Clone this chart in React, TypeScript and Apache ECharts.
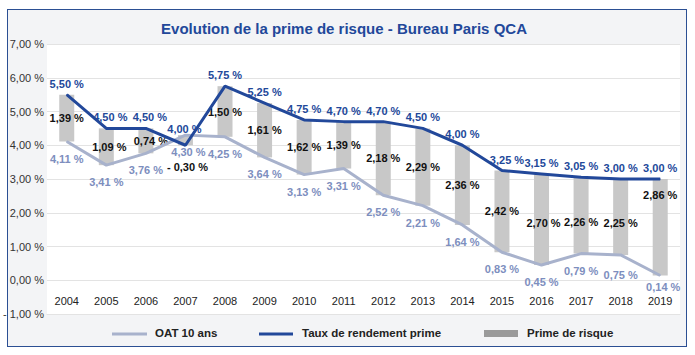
import React, { useEffect, useRef } from "react";
import * as echarts from "echarts";

const years = ["2004", "2005", "2006", "2007", "2008", "2009", "2010", "2011", "2012", "2013", "2014", "2015", "2016", "2017", "2018", "2019"];
const tauxPrime = [5.5, 4.5, 4.5, 4.0, 5.75, 5.25, 4.75, 4.7, 4.7, 4.5, 4.0, 3.25, 3.15, 3.05, 3.0, 3.0];
const oat = [4.11, 3.41, 3.76, 4.3, 4.25, 3.64, 3.13, 3.31, 2.52, 2.21, 1.64, 0.83, 0.45, 0.79, 0.75, 0.14];
const primeRisque = [1.39, 1.09, 0.74, -0.3, 1.5, 1.61, 1.62, 1.39, 2.18, 2.29, 2.36, 2.42, 2.7, 2.26, 2.25, 2.86];
const yTicks = { min: -1, max: 7, interval: 1 };

const FONT = "'Liberation Sans', Arial, sans-serif";
const BLUE = "#22489a";
const OAT_LINE = "#a8b2cc";
const OAT_LABEL = "#7d8ebe";

const fmt = (v: number) =>
  v < 0 ? "- " + Math.abs(v).toFixed(2).replace(".", ",") + " %" : v.toFixed(2).replace(".", ",") + " %";

// label placement tweaks (style only)
const primeLabelStyle: Record<string, any> = {
  "2005": { offset: [3, 0] },
  "2006": { offset: [5, 0] },
  "2007": { position: "bottom", distance: 16, offset: [2, 0] },
  "2016": { offset: [2, 3] },
  "2017": { offset: [0, 7] },
  "2018": { offset: [0, 6] },
  "2019": { offset: [0, -32] },
};
const tauxLabelStyle: Record<string, any> = {
  "2005": { offset: [4, 0] },
  "2006": { offset: [4, 0] },
  "2007": { offset: [-1, -5] },
  "2015": { offset: [5, 0] },
};
const oatLabelStyle: Record<string, any> = {
  "2007": { offset: [3, 0] },
  "2018": { offset: [0, 3] },
  "2019": { offset: [3, -6] },
};

export default function App() {
  const ref = useRef<HTMLDivElement>(null);
  useEffect(() => {
    if (!ref.current) return;
    const chart = echarts.init(ref.current, null, { renderer: "svg" });
    const base = years.map((_, i) => Math.min(oat[i], tauxPrime[i]));
    chart.setOption({
      animation: false,
      textStyle: { fontFamily: FONT },
      grid: {
        left: 45,
        right: 15,
        top: 44,
        bottom: 41,
        show: true,
        backgroundColor: "#ffffff",
        borderWidth: 0,
      },
      xAxis: {
        type: "category",
        data: years,
        position: "bottom",
        axisLine: { show: true, onZero: false, lineStyle: { color: "#e3e3e3", width: 1 } },
        axisTick: { show: false },
        axisLabel: { margin: -19, color: "#222", fontSize: 11, fontFamily: FONT },
        splitLine: { show: false },
      },
      yAxis: {
        type: "value",
        min: yTicks.min,
        max: yTicks.max,
        interval: yTicks.interval,
        axisLine: { show: false },
        axisTick: { show: false },
        axisLabel: {
          margin: 3,
          color: "#333",
          fontSize: 11,
          fontFamily: FONT,
          formatter: (v: number) => fmt(v),
        },
        splitLine: { lineStyle: { color: "#e3e3e3", width: 1 } },
      },
      graphic: [
        {
          type: "text",
          x: 344,
          y: 28,
          style: {
            text: "Evolution de la prime de risque - Bureau Paris QCA",
            fill: BLUE,
            font: "bold 15px " + FONT,
            textAlign: "center",
            textVerticalAlign: "middle",
          },
        },
        { type: "line", shape: { x1: 112, y1: 334, x2: 147, y2: 334 }, style: { stroke: OAT_LINE, lineWidth: 3 } },
        {
          type: "text",
          x: 155,
          y: 333,
          style: { text: "OAT 10 ans", fill: "#222", font: "bold 11.5px " + FONT, textVerticalAlign: "middle" },
        },
        { type: "line", shape: { x1: 259, y1: 334, x2: 293, y2: 334 }, style: { stroke: BLUE, lineWidth: 3 } },
        {
          type: "text",
          x: 302,
          y: 333,
          style: { text: "Taux de rendement prime", fill: "#222", font: "bold 11.5px " + FONT, textVerticalAlign: "middle" },
        },
        { type: "rect", shape: { x: 484, y: 330, width: 34, height: 7 }, style: { fill: "#9a9a9a" } },
        {
          type: "text",
          x: 527,
          y: 333,
          style: { text: "Prime de risque", fill: "#222", font: "bold 11.5px " + FONT, textVerticalAlign: "middle" },
        },
      ],
      series: [
        {
          type: "bar",
          stack: "p",
          data: base,
          barWidth: 15,
          silent: true,
          itemStyle: { color: "transparent" },
          emphasis: { disabled: true },
        },
        {
          type: "bar",
          name: "Prime de risque",
          stack: "p",
          barWidth: 15,
          data: primeRisque.map((v, i) => ({
            value: Math.abs(v),
            label: primeLabelStyle[years[i]],
          })),
          itemStyle: { color: "#c8c8c8" },
          label: {
            show: true,
            position: "inside",
            color: "#111",
            fontWeight: "bold",
            fontSize: 11,
            fontFamily: FONT,
            formatter: (p: any) => fmt(primeRisque[p.dataIndex]),
          },
        },
        {
          type: "line",
          name: "OAT 10 ans",
          data: oat.map((v, i) => ({ value: v, label: oatLabelStyle[years[i]] })),
          symbol: "circle",
          symbolSize: 1,
          itemStyle: { color: OAT_LINE },
          lineStyle: { color: OAT_LINE, width: 3 },
          label: {
            show: true,
            position: "bottom",
            distance: 11,
            color: OAT_LABEL,
            fontWeight: "bold",
            fontSize: 11,
            fontFamily: FONT,
            formatter: (p: any) => fmt(p.value),
          },
        },
        {
          type: "line",
          name: "Taux de rendement prime",
          data: tauxPrime.map((v, i) => ({ value: v, label: tauxLabelStyle[years[i]] })),
          symbol: "circle",
          symbolSize: 1,
          itemStyle: { color: BLUE },
          lineStyle: { color: BLUE, width: 3 },
          label: {
            show: true,
            position: "top",
            distance: 5,
            color: BLUE,
            fontWeight: "bold",
            fontSize: 11,
            fontFamily: FONT,
            formatter: (p: any) => fmt(p.value),
          },
        },
      ],
    });
    return () => chart.dispose();
  }, []);

  return (
    <div style={{ position: "absolute", left: 0, top: 0, width: 695, height: 355, background: "#ffffff" }}>
      <div
        style={{
          position: "absolute",
          left: 7,
          top: 9,
          width: 678,
          height: 336,
          background: "#f3f4f6",
          border: "1.5px solid #2b4f93",
        }}
      />
      <div ref={ref} style={{ position: "absolute", left: 0, top: 0, width: 695, height: 355 }} />
    </div>
  );
}
